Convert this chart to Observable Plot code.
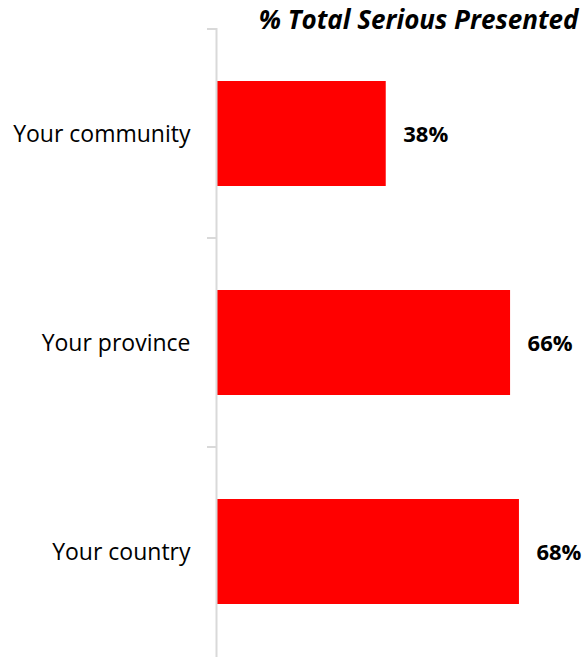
<!DOCTYPE html>
<html>
<head>
<meta charset="utf-8">
<script src="https://cdn.jsdelivr.net/npm/d3@7"></script>
<script src="https://cdn.jsdelivr.net/npm/@observablehq/plot@0.6"></script>
<style>
  html, body { margin: 0; padding: 0; background: #fff; }
</style>
</head>
<body>
<div id="chart"></div>
<script>
const categories = ["Your community", "Your province", "Your country"];
const values = [38, 66, 68];
const valueLabels = ["38%", "66%", "68%"];
const title = "% Total Serious Presented";

const data = categories.map((c, i) => ({category: c, value: values[i], label: valueLabels[i]}));
const font = "'Open Sans', sans-serif";

const chart = Plot.plot({
  width: 582,
  height: 657,
  marginTop: 28,
  marginBottom: 0,
  marginLeft: 217,
  marginRight: 0,
  style: {fontFamily: font, background: "#fff"},
  x: {domain: [0, 82.2], axis: null},
  y: {domain: categories, paddingInner: 0.5, paddingOuter: 0.25, label: null},
  marks: [
    Plot.barX(data, {x: "value", y: "category", fill: "#ff0000"}),
    Plot.ruleX([0], {stroke: "#d9d9d9", strokeWidth: 2, dx: -1}),
    Plot.axisY({tickSize: 9, tickFormat: null, stroke: "#d9d9d9", strokeWidth: 2, strokeOpacity: 1, dx: -1, dy: -105}),
    Plot.axisY({tickSize: 0, tickPadding: 27, fontSize: 23, fill: "#000", color: "#000", dy: 1}),
    Plot.text(data, {x: "value", y: "category", text: "label", textAnchor: "start", dx: 17, dy: 1, fontSize: 22, fontWeight: "bold", fill: "#000"}),
    Plot.text([title], {frameAnchor: "top-right", dy: -18, dx: -4, fontSize: 26, fontWeight: "bold", fontStyle: "italic", fill: "#000", textAnchor: "end"})
  ]
});
document.getElementById("chart").append(chart);
</script>
</body>
</html>
